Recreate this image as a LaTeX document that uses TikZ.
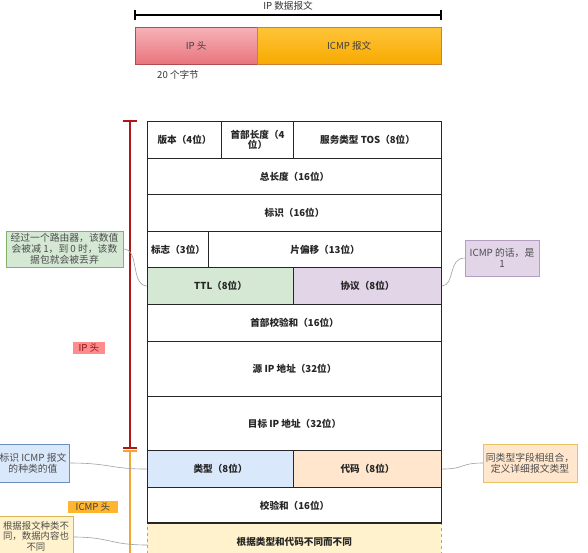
\documentclass[tikz,border=0pt]{standalone}
\usepackage{fontspec}
\setmainfont{Noto Sans CJK SC}
\definecolor{ttlg}{HTML}{D5E8D4}
\definecolor{ttlgd}{HTML}{82B366}
\definecolor{protp}{HTML}{E1D5E7}
\definecolor{protpd}{HTML}{9673A6}
\definecolor{typeb}{HTML}{DAE8FC}
\definecolor{typebd}{HTML}{6C8EBF}
\definecolor{codeo}{HTML}{FFE6CC}
\definecolor{codeod}{HTML}{D79B00}
\definecolor{datay}{HTML}{FFF2CC}
\definecolor{datayd}{HTML}{D6B656}
\definecolor{ipred}{HTML}{B01818}
\definecolor{icmpor}{HTML}{F0A630}
\definecolor{txtgray}{HTML}{4D4D4D}
\definecolor{icmptop}{HTML}{FFC43A}
\definecolor{icmpbot}{HTML}{F7AA00}
\definecolor{iptop}{HTML}{F6B3B8}
\definecolor{ipbot}{HTML}{E8747C}
\begin{document}
\begin{tikzpicture}[x=1pt,y=-1pt,
  cell/.style={draw=black!85,line width=1.1pt,anchor=north west,inner sep=0pt,align=center,
    font=\bfseries\fontsize{9.6}{11}\selectfont,text=black!85},
  note/.style={inner sep=1pt,align=center,font=\fontsize{9.8}{11}\selectfont,text=txtgray,line width=0.5pt},
  link/.style={draw=gray!75,line width=0.6pt},
  tag/.style={inner sep=0pt,font=\fontsize{9.6}{10}\selectfont}]
\useasboundingbox (0,0) rectangle (588,553);

% top: IP datagram
\coordinate (bl) at (135,15);
\coordinate (br) at (441,15);
\draw[line width=1.2pt] (bl) -- (br);
\draw[line width=1.2pt] (135,10) -- (135,20) (441,10) -- (441,20);
\node[tag,text=black!80] (dglabel) at (288,5.5) {IP 数据报文};
\node[draw=red!40!gray,line width=0.4pt,top color=iptop,bottom color=ipbot,
  minimum width=122pt,minimum height=37pt,anchor=north west,inner sep=0pt,
  font=\fontsize{9.6}{10}\selectfont,text=black!75] (iph) at (135,27) {IP 头};
\node[draw=orange!60!gray,line width=0.4pt,top color=icmptop,bottom color=icmpbot,
  minimum width=184pt,minimum height=37pt,anchor=north west,inner sep=0pt,
  font=\fontsize{9.6}{10}\selectfont,text=black!75] (icmpm) at (257,27) {ICMP 报文};
\node[tag,text=black!80] (bytes) at (178,75) {20 个字节};

% table
\node[cell,minimum width=74pt,minimum height=37pt] (ver) at (147,121) {版本（4位）};
\node[cell,minimum width=72pt,minimum height=37pt,font=\bfseries\fontsize{9.6}{10.5}\selectfont] (hl) at (221,121) {首部长度（4\\位）};
\node[cell,minimum width=148pt,minimum height=37pt] (tos) at (293,121) {服务类型 TOS（8位）};
\node[cell,minimum width=294pt,minimum height=36pt] (tl) at (147,158) {总长度（16位）};
\node[cell,minimum width=294pt,minimum height=37pt] (id) at (147,194) {标识（16位）};
\node[cell,minimum width=61pt,minimum height=36pt] (flag) at (147,231) {标志（3位）};
\node[cell,minimum width=233pt,minimum height=36pt] (frag) at (208,231) {片偏移（13位）};
\node[cell,fill=ttlg,minimum width=146pt,minimum height=37pt] (ttl) at (147,267) {TTL（8位）};
\node[cell,fill=protp,minimum width=148pt,minimum height=37pt] (proto) at (293,267) {协议（8位）};
\node[cell,minimum width=294pt,minimum height=37pt] (hcs) at (147,304) {首部校验和（16位）};
\node[cell,minimum width=294pt,minimum height=55pt] (src) at (147,341) {源 IP 地址（32位）};
\node[cell,minimum width=294pt,minimum height=54pt] (dst) at (147,396) {目标 IP 地址（32位）};
\node[cell,fill=typeb,minimum width=146pt,minimum height=37pt] (type) at (147,450) {类型（8位）};
\node[cell,fill=codeo,minimum width=148pt,minimum height=37pt] (code) at (293,450) {代码（8位）};
\node[cell,minimum width=294pt,minimum height=36pt] (cs) at (147,487) {校验和（16位）};
\node[cell,fill=datay,draw=gray!70,dashed,line width=0.6pt,minimum width=294pt,minimum height=38pt] (data) at (147,523) {根据类型和代码不同而不同};
\draw[black!85,line width=1.1pt] (data.north west) -- (data.north east);

% side brackets
\coordinate (rt) at (130,121);
\coordinate (rb) at (130,448);
\coordinate (ot) at (130,451);
\coordinate (ob) at (130,560);
\draw[ipred,line width=1.2pt] (rt) -- (rb);
\draw[ipred,line width=1.4pt] (123,121) -- (137,121) (123,448) -- (137,448);
\draw[icmpor,line width=1.2pt] (ot) -- (ob);
\draw[icmpor,line width=1.4pt] (123,451) -- (137,451);
\node[tag,fill=red!45,text=ipred!80!black,minimum width=32pt,minimum height=12pt] (iptag) at (89,347.5) {IP 头};
\node[tag,fill=icmptop!80!orange,text=black!75,minimum width=50pt,minimum height=12pt] (icmptag) at (93,506.5) {ICMP 头};

% callouts
\node[note,fill=ttlg,draw=ttlgd,minimum width=117pt,minimum height=36pt] (nttl) at (64.5,249) {经过一个路由器，该数值\\会被减 1，到 0 时，该数\\据包就会被丢弃};
\node[note,fill=protp,draw=protpd!70,minimum width=74pt,minimum height=36pt] (nproto) at (502,258) {ICMP 的话，是\\1};
\node[note,fill=typeb,draw=typebd,minimum width=72pt,minimum height=38pt] (ntype) at (33,463) {标识 ICMP 报文\\的种类的值};
\node[note,fill=datay,draw=datayd,minimum width=74pt,minimum height=40pt,font=\fontsize{9.4}{10.4}\selectfont] (ndata) at (36,536) {根据报文种类不\\同，数据内容也\\不同};
\node[note,fill=codeo,draw=codeod!60,minimum width=94pt,minimum height=38pt] (ncode) at (530,463) {同类型字段相组合，\\定义详细报文类型};

\draw[link] (nttl.east) .. controls (140,249) and (130,285) .. (ttl.west);
\draw[link] (nproto.west) .. controls (448,258) and (455,285) .. (proto.east);
\draw[link] (ntype.east) .. controls (110,463) and (110,469) .. (type.west);
\draw[link] (ncode.west) .. controls (460,463) and (465,469) .. (code.east);
\draw[link] (ndata.east |- 0,537) .. controls (110,537) and (110,545) .. (data.west |- 0,545);
\end{tikzpicture}
\end{document}
